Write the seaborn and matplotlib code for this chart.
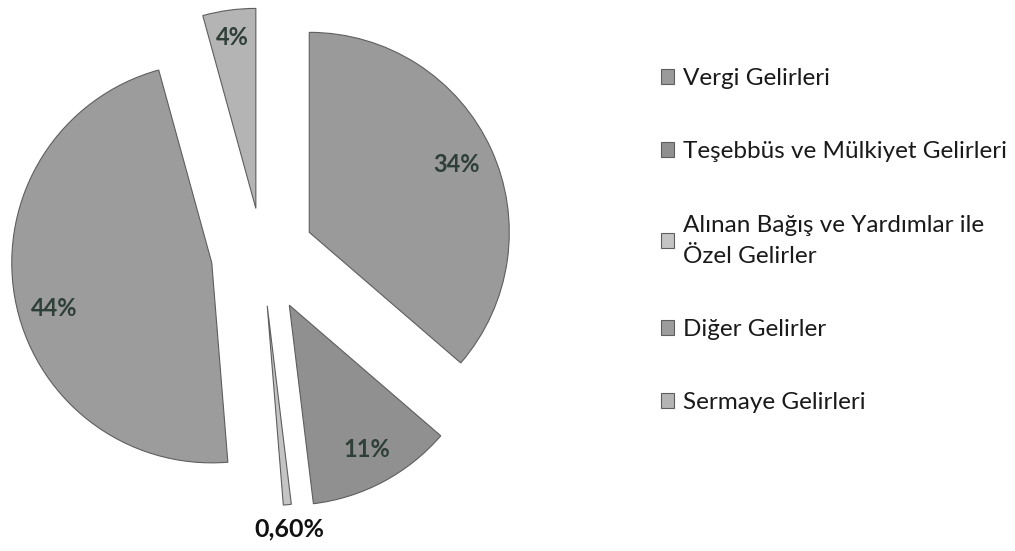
import matplotlib
matplotlib.use("Agg")
import numpy as np
import matplotlib.pyplot as plt
import seaborn as sns

# Revenue shares (clockwise from 12 o'clock)
categories = [
    "Vergi Gelirleri",
    "Teşebbüs ve Mülkiyet Gelirleri",
    "Alınan Bağış ve Yardımlar ile\nÖzel Gelirler",
    "Diğer Gelirler",
    "Sermaye Gelirleri",
]
values = [34, 11, 0.6, 44, 4]
value_labels = ["34%", "11%", "0,60%", "44%", "4%"]

# Styling
slice_colors = ["#9a9a9a", "#909090", "#c4c4c4", "#9c9c9c", "#b4b4b4"]
explode = [0.26, 0.29, 0.26, 0.255, 0.23]
label_dist = [0.81, 0.82, 1.12, 0.82, 0.86]
label_turn = [0, 0, 0, 6, 0]   # degrees nudge from bisector
label_colors = ["#2e3f38", "#2e3f38", "#111111", "#2e3f38", "#2e3f38"]
label_sizes = [17, 17, 18, 17, 17]

sns.set_style("white")
plt.rcParams["font.family"] = ["Lato", "DejaVu Sans"]

fig = plt.figure(figsize=(10.15, 5.51), dpi=100)
ax = fig.add_axes([2 / 1015, 0, 520 / 1015, 1])

wedges, _ = ax.pie(
    values,
    explode=explode,
    colors=slice_colors,
    startangle=90,
    counterclock=False,
    wedgeprops=dict(edgecolor="#5e5e5e", linewidth=0.8),
)
ax.set_aspect("auto")
ax.set_xlim(-1.3, 1.3)
ax.set_ylim(-1.485, 1.27)
ax.axis("off")

# Percent labels placed along each wedge's bisector
for w, txt, d, a, c, s in zip(wedges, value_labels, label_dist, label_turn,
                              label_colors, label_sizes):
    mid = np.deg2rad((w.theta1 + w.theta2) / 2 + a)
    cx, cy = w.center
    ax.text(cx + d * np.cos(mid), cy + d * np.sin(mid), txt,
            ha="center", va="center", fontsize=s, fontweight="bold", color=c)

leg = fig.legend(
    wedges, categories,
    loc="upper left",
    bbox_to_anchor=(661 / 1015, 1 - 68 / 551),
    frameon=False,
    fontsize=17.5,
    labelspacing=2.15,
    handlelength=0.55,
    handleheight=0.55,
    handletextpad=0.35,
    borderpad=0,
    borderaxespad=0,
    labelcolor="#1a1a1a",
)
for t in leg.get_texts():
    t.set_linespacing(1.6)

fig.savefig("out.png", dpi=100)
